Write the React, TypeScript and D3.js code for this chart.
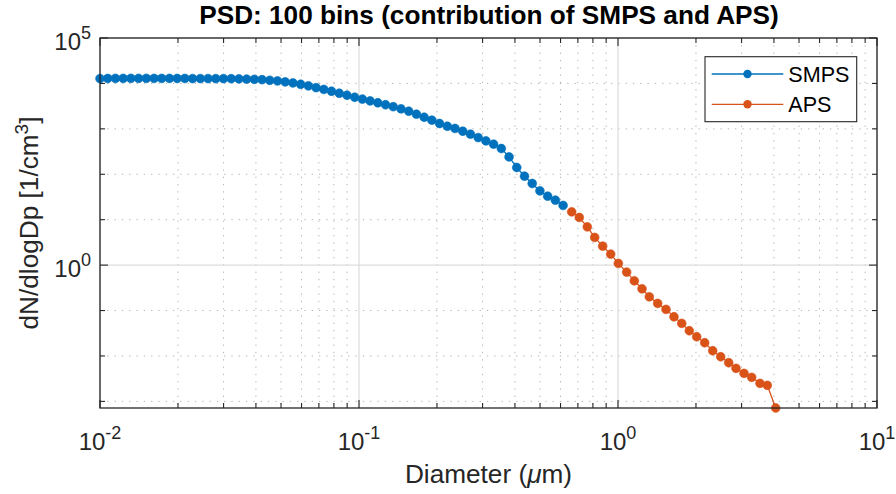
import React from "react";
import * as d3 from "d3";

// ---------- data ----------
const smpsDiameter = [
  0.01, 0.01071, 0.01147, 0.01229, 0.01316, 0.01409, 0.01509, 0.01617, 0.01731, 0.01854,
  0.01986, 0.02127, 0.02278, 0.0244, 0.02613, 0.02799, 0.02997, 0.0321, 0.03438, 0.03682,
  0.03944, 0.04224, 0.04524, 0.04845, 0.05189, 0.05559, 0.05953, 0.06376, 0.06829, 0.07314,
  0.07834, 0.0839, 0.08986, 0.09624, 0.1031, 0.1104, 0.1182, 0.1266, 0.1356, 0.1453,
  0.1556, 0.1666, 0.1785, 0.1911, 0.2047, 0.2193, 0.2348, 0.2515, 0.2694, 0.2885,
  0.309, 0.3309, 0.3544, 0.3796, 0.4066, 0.4355, 0.4664, 0.4995, 0.535, 0.573, 0.6137,
];
const smpsDensity = [
  12800, 12850, 12900, 12900, 12950, 12950, 12950, 12900, 12900, 12900,
  12850, 12850, 12800, 12800, 12800, 12750, 12750, 12700, 12600, 12450,
  12300, 12100, 11730, 11330, 10820, 10230, 9580, 8840, 8070, 7370,
  6720, 6070, 5490, 4960, 4530, 4110, 3750, 3390, 3070, 2760,
  2440, 2100, 1800, 1550, 1310, 1140, 1020, 886, 762, 644,
  543, 459, 369, 241, 141, 90.7, 62.7, 43.1, 32.9, 26.9, 20.6,
];
const apsDiameter = [
  0.6625, 0.7088, 0.7612, 0.8128, 0.8727, 0.9371, 1.003, 1.08, 1.156, 1.238,
  1.321, 1.423, 1.532, 1.645, 1.762, 1.885, 2.013, 2.161, 2.321, 2.492,
  2.676, 2.855, 3.066, 3.282, 3.534, 3.771, 4.063,
];
const apsDensity = [
  14.88, 11.2, 6.958, 4.068, 2.618, 1.746, 1.09, 0.7015, 0.4515, 0.3011,
  0.2008, 0.1437, 0.106, 0.07291, 0.0522, 0.03587, 0.02647, 0.01953, 0.01302, 0.009612,
  0.007094, 0.005341, 0.004147, 0.003386, 0.002498, 0.002258, 0.000715,
];

const xTickValues = [0.01, 0.1, 1, 10];
const xTickExponents = ["-2", "-1", "0", "1"];
const yTickValues = [1, 1e5];
const yTickExponents = ["0", "5"];
const yMinorValues = [1e-3, 1e-2, 1e-1, 10, 100, 1000, 10000];

const seriesNames = ["SMPS", "APS"];
const seriesColors = ["#0072BD", "#D95319"];

const titleText = "PSD: 100 bins (contribution of SMPS and APS)";

// ---------- layout ----------
const W = 896;
const H = 494;
const M = { left: 100, right: 877, top: 38, bottom: 408 };
const FONT = "'Liberation Sans', Arial, Helvetica, sans-serif";
const AX = "#262626";

export default function App() {
  const x = d3.scaleLog().domain([0.01, 10]).range([M.left, M.right]);
  const yMin = d3.min([...smpsDensity, ...apsDensity]) as number;
  const y = d3.scaleLog().domain([yMin, 1e5]).range([M.bottom, M.top]);

  const xMinor = x
    .ticks()
    .filter((v) => !xTickValues.some((t) => Math.abs(t - v) / t < 1e-6));

  const line = d3
    .line<[number, number]>()
    .x((d) => x(d[0]))
    .y((d) => y(d[1]));

  const series = [
    { name: seriesNames[0], color: seriesColors[0], pts: smpsDiameter.map((d, i) => [d, smpsDensity[i]] as [number, number]) },
    { name: seriesNames[1], color: seriesColors[1], pts: apsDiameter.map((d, i) => [d, apsDensity[i]] as [number, number]) },
  ];

  const majorLen = 8;
  const minorLen = 5;

  const legend = { x: 705, y: 56.7, w: 151.7, h: 65 };
  const legendRows = [74, 104.3];

  return (
    <svg
      width={W}
      height={H}
      style={{ position: "absolute", left: 0, top: 0, background: "#fff", display: "block" }}
      fontFamily={FONT}
    >
      <rect x={0} y={0} width={W} height={H} fill="#fff" />
      <rect x={M.left} y={M.top} width={M.right - M.left} height={M.bottom - M.top} fill="#fff" />

      {/* minor grid */}
      <g stroke="#b4b4b4" strokeWidth={1} strokeDasharray="1.3 6">
        {xMinor.map((v, i) => (
          <line key={"xm" + i} x1={x(v)} x2={x(v)} y1={M.top} y2={M.bottom} />
        ))}
        {yMinorValues.map((v, i) => (
          <line key={"ym" + i} x1={M.left} x2={M.right} y1={y(v)} y2={y(v)} />
        ))}
      </g>
      {/* major grid */}
      <g stroke="#dedede" strokeWidth={1.3}>
        {xTickValues.map((v, i) => (
          <line key={"xg" + i} x1={x(v)} x2={x(v)} y1={M.top} y2={M.bottom} />
        ))}
        {yTickValues.map((v, i) => (
          <line key={"yg" + i} x1={M.left} x2={M.right} y1={y(v)} y2={y(v)} />
        ))}
      </g>

      {/* ticks */}
      <g stroke={AX} strokeWidth={1.1}>
        {xTickValues.map((v, i) => (
          <g key={"xt" + i}>
            <line x1={x(v)} x2={x(v)} y1={M.bottom} y2={M.bottom - majorLen} />
            <line x1={x(v)} x2={x(v)} y1={M.top} y2={M.top + majorLen} />
          </g>
        ))}
        {xMinor.map((v, i) => (
          <g key={"xmt" + i}>
            <line x1={x(v)} x2={x(v)} y1={M.bottom} y2={M.bottom - minorLen} />
            <line x1={x(v)} x2={x(v)} y1={M.top} y2={M.top + minorLen} />
          </g>
        ))}
        {yTickValues.map((v, i) => (
          <g key={"yt" + i}>
            <line x1={M.left} x2={M.left + majorLen} y1={y(v)} y2={y(v)} />
            <line x1={M.right} x2={M.right - majorLen} y1={y(v)} y2={y(v)} />
          </g>
        ))}
        {yMinorValues.map((v, i) => (
          <g key={"ymt" + i}>
            <line x1={M.left} x2={M.left + minorLen} y1={y(v)} y2={y(v)} />
            <line x1={M.right} x2={M.right - minorLen} y1={y(v)} y2={y(v)} />
          </g>
        ))}
      </g>

      {/* data */}
      {series.map((s) => (
        <g key={s.name}>
          <path d={line(s.pts) || ""} fill="none" stroke={s.color} strokeWidth={1.3} />
          {s.pts.map((p, i) => (
            <circle key={i} cx={x(p[0])} cy={y(p[1])} r={4.4} fill={s.color} stroke={s.color} strokeWidth={0.6} />
          ))}
        </g>
      ))}

      {/* box */}
      <rect
        x={M.left}
        y={M.top}
        width={M.right - M.left}
        height={M.bottom - M.top}
        fill="none"
        stroke={AX}
        strokeWidth={1.3}
      />

      {/* tick labels */}
      <g fill={AX} fontSize={24}>
        {xTickValues.map((v, i) => (
          <text key={"xl" + i} x={x(v)} y={449.5} textAnchor="middle">
            10<tspan dy={-11} fontSize={18}>{xTickExponents[i]}</tspan>
          </text>
        ))}
        {yTickValues.map((v, i) => (
          <text key={"yl" + i} x={91} y={y(v) + 12} textAnchor="end">
            10<tspan dy={-11} fontSize={18}>{yTickExponents[i]}</tspan>
          </text>
        ))}
      </g>

      {/* axis labels */}
      <text x={(M.left + M.right) / 2} y={483} textAnchor="middle" fontSize={26.2} fill={AX}>
        Diameter (<tspan fontStyle="italic">μ</tspan>m)
      </text>
      <text
        transform={`translate(38,${(M.top + M.bottom) / 2}) rotate(-90)`}
        textAnchor="middle"
        fontSize={26.2}
        fill={AX}
      >
        dN/dlogDp [1/cm<tspan dy={-10} fontSize={19}>3</tspan>
        <tspan dy={10}>]</tspan>
      </text>

      {/* title */}
      <text x={489} y={24} textAnchor="middle" fontSize={26.2} fontWeight="bold" fill="#000">
        {titleText}
      </text>

      {/* legend */}
      <rect x={legend.x} y={legend.y} width={legend.w} height={legend.h} fill="#fff" stroke={AX} strokeWidth={1.1} />
      {series.map((s, i) => (
        <g key={"lg" + i}>
          <line x1={711.7} x2={783.3} y1={legendRows[i]} y2={legendRows[i]} stroke={s.color} strokeWidth={1.3} />
          <circle cx={747.5} cy={legendRows[i]} r={4.2} fill={s.color} />
          <text x={788.3} y={legendRows[i] + 7.6} fontSize={21.6} fill="#000">
            {s.name}
          </text>
        </g>
      ))}
    </svg>
  );
}
